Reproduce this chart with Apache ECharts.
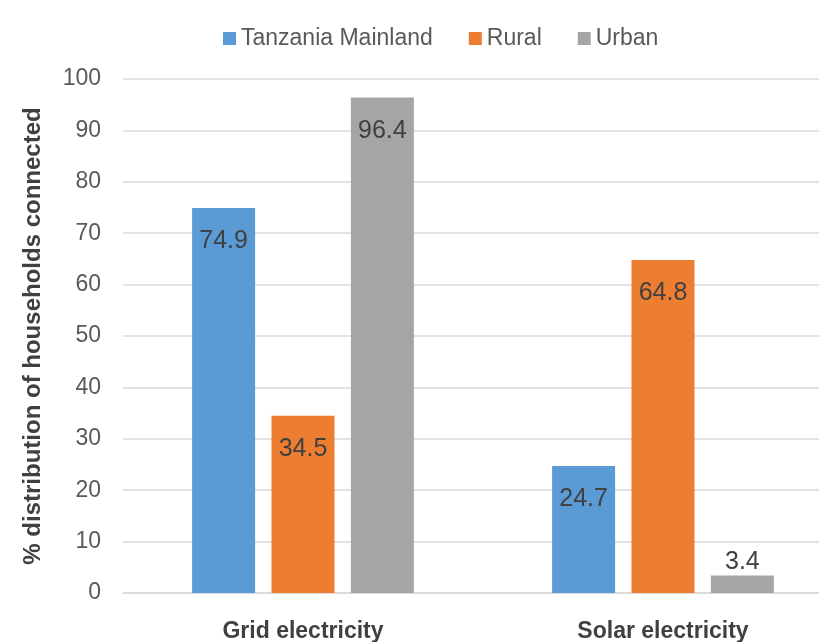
<!DOCTYPE html>
<html>
<head>
<meta charset="utf-8">
<script src="https://cdn.jsdelivr.net/npm/echarts@6/dist/echarts.min.js"></script>
<style>
  html, body { margin: 0; padding: 0; background: #fff; }
  #chart { width: 819px; height: 642px; }
</style>
</head>
<body>
<div id="chart"></div>
<script>
const categories = ['Grid electricity', 'Solar electricity']
const seriesNames = ['Tanzania Mainland', 'Rural', 'Urban']
const mainland = [74.9, 24.7]
const rural = [34.5, 64.8]
const urban = [96.4, 3.4]
const colors = ['#5B9BD5', '#ED7D31', '#A5A5A5']

const font = '"Liberation Sans Narrow", "Arial Narrow", "Liberation Sans", Arial, sans-serif'

// small bars get their label above the bar, others inside the top
function toData(values) {
  return values.map(v => ({
    value: v,
    label: v < 10 ? { position: 'top', distance: 1 } : { position: 'insideTop', distance: 21 }
  }))
}

const chart = echarts.init(document.getElementById('chart'))
chart.setOption({
  animation: false,
  backgroundColor: '#fff',
  color: colors,
  textStyle: { fontFamily: font },
  legend: {
    top: 22,
    left: 218,
    itemWidth: 13,
    itemHeight: 13,
    itemGap: 36,
    icon: 'rect',
    textStyle: { fontSize: 23, color: '#595959', fontFamily: font },
    data: seriesNames
  },
  // plot area runs past the right edge (picture is cropped there)
  grid: {
    left: 123,
    right: -24,
    top: 79,
    bottom: 49,
    outerBoundsMode: 'none'
  },
  xAxis: {
    type: 'category',
    data: categories,
    axisLine: { lineStyle: { color: '#d9d9d9', width: 1.5 } },
    axisTick: { show: false },
    axisLabel: {
      margin: 27,
      fontSize: 23,
      fontWeight: 'bold',
      color: '#404040',
      fontFamily: font
    }
  },
  yAxis: {
    type: 'value',
    min: 0,
    max: 100,
    interval: 10,
    name: '% distribution of households connected',
    nameLocation: 'middle',
    nameGap: 78,
    nameTextStyle: {
      fontSize: 24,
      fontWeight: 'bold',
      color: '#404040',
      fontFamily: font
    },
    axisLine: { show: false },
    axisTick: { show: false },
    axisLabel: {
      margin: 22,
      fontSize: 23,
      color: '#595959',
      fontFamily: font
    },
    splitLine: { lineStyle: { color: '#d9d9d9', width: 1.5 } }
  },
  series: [mainland, rural, urban].map((vals, i) => ({
    name: seriesNames[i],
    type: 'bar',
    barWidth: 63,
    barGap: '26%',
    data: toData(vals),
    label: {
      show: true,
      fontSize: 25,
      color: '#404040',
      fontFamily: font
    }
  }))
})
</script>
</body>
</html>
